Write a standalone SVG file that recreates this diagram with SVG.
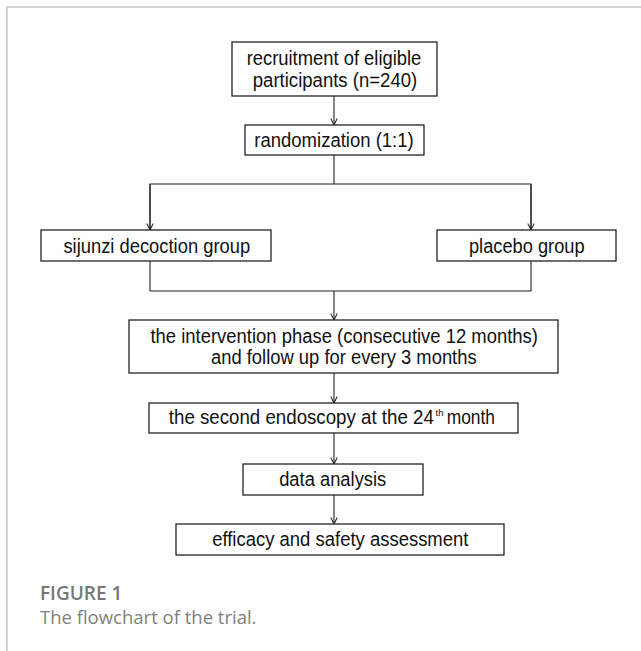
<svg xmlns="http://www.w3.org/2000/svg" width="641" height="651" viewBox="0 0 641 651">
<style>
.box{fill:#fff;stroke:#222;stroke-width:1.3}
.t{font-family:"Liberation Sans",Arial,sans-serif;font-size:20px;fill:#111;text-anchor:middle}
.s{text-anchor:start}
.sup{font-family:"Liberation Sans",Arial,sans-serif;font-size:9.5px;fill:#111}
.c{fill:none;stroke:#222;stroke-width:1.1}
.frame{fill:none;stroke:#d4d4d4;stroke-width:2}
.cap1{font-family:"Open Sans","Noto Sans",sans-serif;font-size:19px;font-weight:600;fill:#777}
.cap2{font-family:"Open Sans","Noto Sans",sans-serif;font-size:18.5px;fill:#808080}
</style>
<defs>
<marker id="ah" viewBox="0 0 10 10" refX="9" refY="5" markerWidth="8" markerHeight="8" markerUnits="userSpaceOnUse" orient="auto">
<path d="M1,1 L9,5 L1,9" fill="none" stroke="#222" stroke-width="1.3"/>
</marker>
</defs>
<rect width="641" height="651" fill="#fff"/>
<path class="frame" d="M7,651 V7 H641"/>
<g id="connectors">
<line class="c" x1="334" y1="96" x2="334" y2="125" marker-end="url(#ah)"/>
<line class="c" x1="334" y1="155" x2="334" y2="184"/>
<path class="c" d="M150,230 V184 H531 V230"/>
<line class="c" x1="150" y1="184" x2="150" y2="230" marker-end="url(#ah)"/>
<line class="c" x1="531" y1="184" x2="531" y2="230" marker-end="url(#ah)"/>
<path class="c" d="M150,261 V291 H531 V261"/>
<line class="c" x1="334" y1="291" x2="334" y2="320" marker-end="url(#ah)"/>
<line class="c" x1="334" y1="373" x2="334" y2="403" marker-end="url(#ah)"/>
<line class="c" x1="334" y1="433" x2="334" y2="464" marker-end="url(#ah)"/>
<line class="c" x1="334" y1="495" x2="334" y2="524" marker-end="url(#ah)"/>
</g>
<g id="recruitment">
<rect class="box" x="232" y="42" width="205" height="54"/>
<text class="t" x="334" y="64.5" textLength="174.6" lengthAdjust="spacingAndGlyphs">recruitment of eligible</text>
<text class="t" x="335" y="87" textLength="164.4" lengthAdjust="spacingAndGlyphs">participants (n=240)</text>
</g>
<g id="randomization">
<rect class="box" x="245" y="125" width="179" height="30"/>
<text class="t" x="334" y="146.7" textLength="159.4" lengthAdjust="spacingAndGlyphs">randomization (1:1)</text>
</g>
<g id="sijunzi">
<rect class="box" x="41" y="230" width="230" height="31"/>
<text class="t" x="156.8" y="252.5" textLength="186.8" lengthAdjust="spacingAndGlyphs">sijunzi decoction group</text>
</g>
<g id="placebo">
<rect class="box" x="437" y="230" width="179" height="31"/>
<text class="t" x="526.8" y="252.5" textLength="115.7" lengthAdjust="spacingAndGlyphs">placebo group</text>
</g>
<g id="intervention">
<rect class="box" x="129" y="320" width="429" height="53"/>
<text class="t" x="344.2" y="342.5" textLength="387.6" lengthAdjust="spacingAndGlyphs">the intervention phase (consecutive 12 months)</text>
<text class="t" x="343.8" y="364.3" textLength="265.7" lengthAdjust="spacingAndGlyphs">and follow up for every 3 months</text>
</g>
<g id="endoscopy">
<rect class="box" x="149" y="403" width="369" height="30"/>
<text class="t s" x="168.8" y="424.3" textLength="265" lengthAdjust="spacingAndGlyphs">the second endoscopy at the 24</text>
<text class="sup" x="435.5" y="415.5">th</text>
<text class="t s" x="446.7" y="424.3" textLength="48.3" lengthAdjust="spacingAndGlyphs">month</text>
</g>
<g id="analysis">
<rect class="box" x="243" y="464" width="180" height="31"/>
<text class="t" x="332.7" y="485.7" textLength="107.1" lengthAdjust="spacingAndGlyphs">data analysis</text>
</g>
<g id="efficacy">
<rect class="box" x="176" y="524" width="328" height="31"/>
<text class="t" x="340.3" y="546" textLength="256.3" lengthAdjust="spacingAndGlyphs">efficacy and safety assessment</text>
</g>
<text class="cap1" x="40" y="599.5">FIGURE 1</text>
<text class="cap2" x="40" y="624">The flowchart of the trial.</text>
</svg>
